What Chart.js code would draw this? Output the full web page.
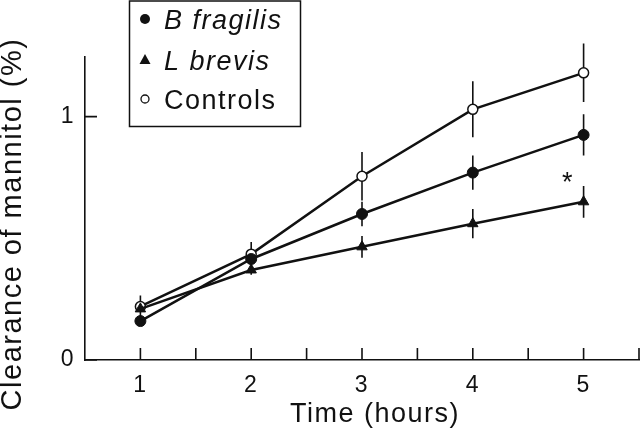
<!DOCTYPE html>
<html lang="en">
<head>
<meta charset="UTF-8" />
<title>Clearance of mannitol</title>
<script src="https://cdn.jsdelivr.net/npm/chart.js"></script>
<style>
  html, body { margin: 0; padding: 0; background: #fff; }
  #wrap { width: 640px; height: 430px; }
</style>
</head>
<body>
<div id="wrap"><canvas id="mannitolChart"></canvas></div>
<script>
// values
const hours = [1, 2, 3, 4, 5];
const bFragilis = [0.16, 0.415, 0.60, 0.77, 0.925];
const bFragilisErr = [0.01, 0.03, 0.05, 0.07, 0.085];
const lBrevis = [0.21, 0.37, 0.465, 0.56, 0.65];
const lBrevisErr = [0.015, 0.02, 0.045, 0.06, 0.065];
const controls = [0.22, 0.435, 0.755, 1.03, 1.18];
const controlsErr = [0.045, 0.05, 0.10, 0.115, 0.12];
const xTickLabels = [1, 2, 3, 4, 5];
const xTickMarks = [1, 1.5, 2, 2.5, 3, 3.5, 4, 4.5, 5, 5.5];
const yTickLabels = [0, 1];
const starAt = [4.86, 0.755];
const xTitle = 'Time (hours)';
const yTitle = 'Clearance of mannitol (%)';

const INK = '#111';
const FONT = '"Liberation Sans", Arial, Helvetica, sans-serif';

function toPoints(ys) {
    return ys.map((v, i) => ({ x: hours[i], y: v }));
}

// ticks pointing inwards, error bars, asterisk, axis titles and the boxed key
const extras = {
    id: 'extras',
    afterInit(chart) { chart.ctx.letterSpacing = '1.5px'; },
    beforeDraw(chart) { chart.ctx.letterSpacing = '1.5px'; },
    beforeDatasetsDraw(chart) {
        const { ctx, scales: { x, y } } = chart;
        ctx.save();
        ctx.strokeStyle = INK;
        ctx.lineWidth = 1.6;
        ctx.beginPath();
        xTickMarks.forEach(v => {
            const px = x.getPixelForValue(v);
            ctx.moveTo(px, y.bottom);
            ctx.lineTo(px, y.bottom - 12);
        });
        yTickLabels.forEach(v => {
            const py = y.getPixelForValue(v);
            ctx.moveTo(x.left, py);
            ctx.lineTo(x.left + 12, py);
        });
        chart.data.datasets.forEach(ds => {
            ds.errors.forEach((e, i) => {
                const p = ds.data[i];
                const px = x.getPixelForValue(p.x);
                ctx.moveTo(px, y.getPixelForValue(p.y - e));
                ctx.lineTo(px, y.getPixelForValue(p.y + e));
            });
        });
        ctx.stroke();
        ctx.restore();
    },
    afterDraw(chart) {
        const { ctx, scales: { x, y } } = chart;
        ctx.save();
        ctx.letterSpacing = '1.5px';
        ctx.fillStyle = INK;
        ctx.strokeStyle = INK;

        // significance mark
        ctx.font = '27px ' + FONT;
        ctx.textAlign = 'center';
        ctx.textBaseline = 'alphabetic';
        ctx.fillText('*', x.getPixelForValue(starAt[0]), y.getPixelForValue(starAt[1]) + 15);

        // axis titles
        ctx.textBaseline = 'middle';
        ctx.font = '27px ' + FONT;
        ctx.fillText(xTitle, 375, 415);
        ctx.save();
        ctx.translate(13, 224);
        ctx.rotate(-Math.PI / 2);
        ctx.font = '29px ' + FONT;
        ctx.fillText(yTitle, 0, 0);
        ctx.restore();

        // key
        ctx.lineWidth = 1.5;
        ctx.strokeRect(129.5, 1, 171, 125.5);
        const rows = [19, 60, 99];
        ctx.textAlign = 'left';
        ctx.textBaseline = 'alphabetic';
        chart.data.datasets.forEach((ds, i) => {
            const cy = rows[i];
            const cx = 145;
            ctx.beginPath();
            if (ds.pointStyle === 'triangle') {
                ctx.moveTo(cx, cy - 6);
                ctx.lineTo(cx + 5.5, cy + 4);
                ctx.lineTo(cx - 5.5, cy + 4);
                ctx.closePath();
                ctx.fill();
            } else if (ds.pointBackgroundColor === '#fff') {
                ctx.lineWidth = 1.3;
                ctx.arc(cx, cy, 4, 0, Math.PI * 2);
                ctx.stroke();
            } else {
                ctx.arc(cx, cy, 5, 0, Math.PI * 2);
                ctx.fill();
            }
            ctx.font = (ds.italic ? 'italic ' : '') + '27px ' + FONT;
            ctx.fillText(ds.label, 164, cy + 10);
        });
        ctx.restore();
    }
};

const ctx = document.getElementById('mannitolChart').getContext('2d');
const chart = new Chart(ctx, {
    type: 'line',
    data: {
        datasets: [{
            label: 'B fragilis',
            italic: true,
            data: toPoints(bFragilis),
            errors: bFragilisErr,
            borderColor: INK,
            borderWidth: 2.5,
            pointStyle: 'circle',
            pointRadius: 5.5,
            pointBackgroundColor: INK,
            pointBorderColor: INK,
            pointBorderWidth: 1
        }, {
            label: 'L brevis',
            italic: true,
            data: toPoints(lBrevis),
            errors: lBrevisErr,
            borderColor: INK,
            borderWidth: 2.5,
            pointStyle: 'triangle',
            pointRadius: 6,
            pointBackgroundColor: INK,
            pointBorderColor: INK,
            pointBorderWidth: 1
        }, {
            label: 'Controls',
            italic: false,
            data: toPoints(controls),
            errors: controlsErr,
            borderColor: INK,
            borderWidth: 2.5,
            pointStyle: 'circle',
            pointRadius: 5,
            pointBackgroundColor: '#fff',
            pointBorderColor: INK,
            pointBorderWidth: 1.5
        }]
    },
    options: {
        responsive: true,
        maintainAspectRatio: false,
        animation: false,
        devicePixelRatio: 1,
        layout: { autoPadding: false, padding: { top: 57, right: 1, left: 0, bottom: 0 } },
        plugins: {
            legend: { display: false },
            tooltip: { enabled: false }
        },
        elements: { line: { tension: 0, fill: false } },
        scales: {
            x: {
                type: 'linear',
                min: 0.5,
                max: 5.5,
                afterBuildTicks: s => { s.ticks = xTickLabels.map(v => ({ value: v })); },
                afterFit: s => { s.height = 70; s.paddingLeft = 0; s.paddingRight = 0; },
                grid: { display: false },
                border: { display: true, color: INK, width: 1.6 },
                ticks: { color: INK, padding: 4, font: { family: FONT, size: 23 } },
                title: { display: false }
            },
            y: {
                type: 'linear',
                min: 0,
                max: 1.245,
                afterBuildTicks: s => { s.ticks = yTickLabels.map(v => ({ value: v })); },
                afterFit: s => { s.width = 85; s.paddingTop = 0; s.paddingBottom = 0; },
                grid: { display: false },
                border: { display: true, color: INK, width: 1.6 },
                ticks: { color: INK, padding: 2, font: { family: FONT, size: 23 } },
                title: { display: false }
            }
        }
    },
    plugins: [extras]
});
</script>
</body>
</html>
